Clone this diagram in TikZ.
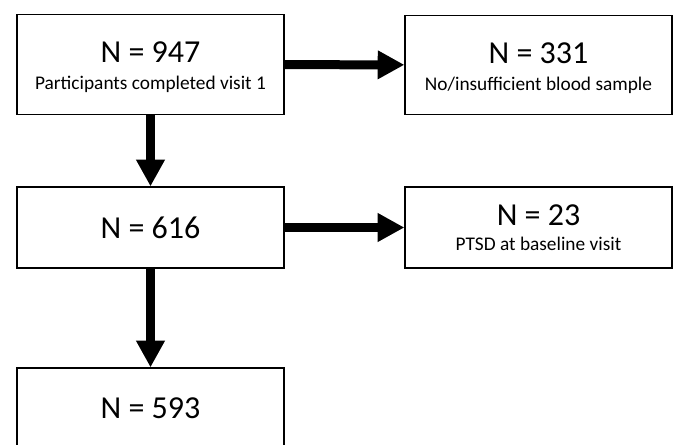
\documentclass[tikz,border=0pt]{standalone}
\usepackage{fontspec}
\setmainfont{Carlito}
\usetikzlibrary{arrows.meta}
\newcommand{\bign}[1]{{\fontsize{24}{20}\selectfont #1}}

\begin{document}
\begin{tikzpicture}[x=0.75pt, y=-0.75pt]
        \tikzstyle{every node}=[draw, line width=0.9pt, inner sep=0pt, align=center, minimum width=200.25pt, font=\fontsize{14.5}{20}\selectfont]
        \tikzstyle{tall}=[minimum height=74.5pt]
        \tikzstyle{short}=[minimum height=60.75pt]
        \tikzstyle{flow}=[line width=6.75pt, -{Triangle[length=20pt, width=20.25pt]}]
        \useasboundingbox (0,0) rectangle (678,444);
        \node [tall] (n947) at (150.5,64.5) {\bign{\rule{0pt}{20pt}N = 947}\\Participants completed visit 1};
        \node [tall] (n331) at (538.5,65) {\bign{\rule{0pt}{20pt}N = 331}\\No/insufficient blood sample};
        \node [short] (n616) at (150.5,227.5) {\bign{N = 616}};
        \node [short] (n23) at (538.5,227.5) {\bign{N = 23}\\[-1pt]PTSD at baseline visit};
        \node [short] (n593) at (150.5,408.5) {\bign{N = 593}};
        \draw [flow] (n947) -- (n331);
        \draw [flow] (n947) -- (n616);
        \draw [flow] (n616) -- (n23);
        \draw [flow] (n616) -- (n593);
    \end{tikzpicture}
\end{document}
